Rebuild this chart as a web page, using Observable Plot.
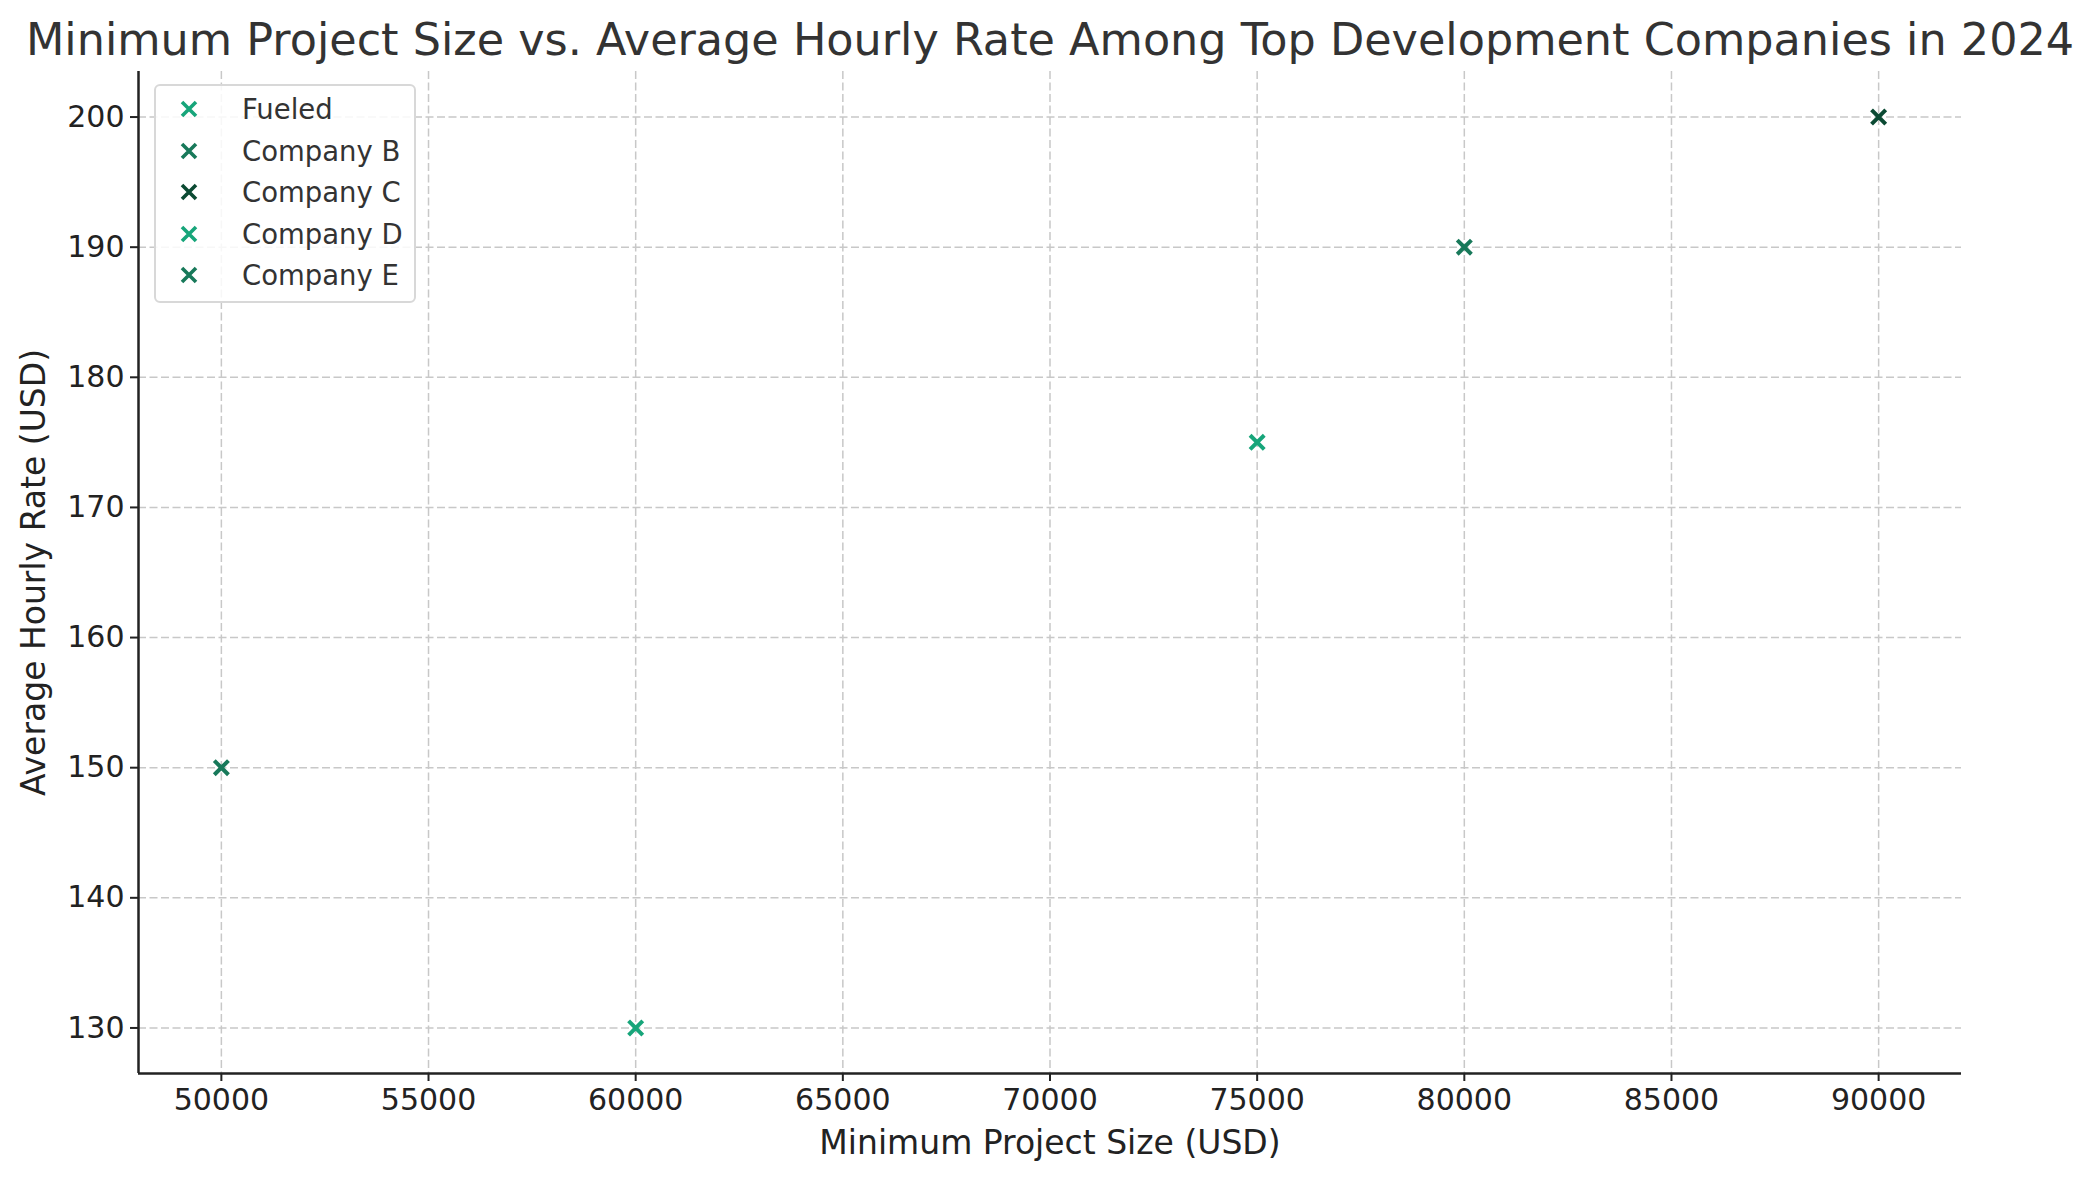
<!DOCTYPE html>
<html><head><meta charset="utf-8">
<script src="https://cdn.jsdelivr.net/npm/d3@7"></script>
<script src="https://cdn.jsdelivr.net/npm/@observablehq/plot@0.6"></script>
<style>
body{margin:0;background:#fff;font-family:"DejaVu Sans",sans-serif;}
#wrap{position:relative;width:2092px;height:1180px;}
#legend{position:absolute;left:154px;top:84px;width:262px;height:219px;border:2px solid #d8d8d8;border-radius:6px;box-sizing:border-box;background:rgba(255,255,255,0.85);}
.row{position:absolute;left:0;height:40px;display:flex;align-items:center;font-size:27.5px;color:#333;white-space:nowrap;}
.row svg{margin-left:23px;margin-right:43px;}
</style>
</head><body>
<div id="wrap"><div id="legend"></div></div>
<script>
const companies = ["Fueled", "Company B", "Company C", "Company D", "Company E"];
const minProjectSize = [75000, 50000, 90000, 60000, 80000];
const hourlyRate = [175, 150, 200, 130, 190];
const colors = ["#17a57a", "#18795a", "#0b4a33", "#17a57a", "#18795a"];
const xTicks = [50000, 55000, 60000, 65000, 70000, 75000, 80000, 85000, 90000];
const yTicks = [130, 140, 150, 160, 170, 180, 190, 200];

const data = companies.map((c, i) => ({company: c, x: minProjectSize[i], y: hourlyRate[i], color: colors[i]}));

const xDomain = [48000, 92000];
const yDomain = [126.5, 203.5];
const axisColor = "#222";
const grid = {stroke: "#c8c8c8", strokeOpacity: 1, strokeDasharray: "8,3.5", strokeWidth: 1.5};

const chart = Plot.plot({
  width: 2092, height: 1180,
  marginLeft: 138, marginRight: 131, marginTop: 71, marginBottom: 107,
  x: {domain: xDomain},
  y: {domain: yDomain},
  style: {fontFamily: "DejaVu Sans", background: "transparent", overflow: "visible"},
  marks: [
    Plot.gridX({ticks: xTicks, ...grid}),
    Plot.gridY({ticks: yTicks, ...grid}),
    Plot.axisX({ticks: xTicks, tickSize: 8, tickPadding: 7, fontSize: 30, fill: axisColor, stroke: axisColor, strokeWidth: 2, tickFormat: d => String(d), label: null}),
    Plot.axisY({ticks: yTicks, tickSize: 8, tickPadding: 6, fontSize: 30, fill: axisColor, stroke: axisColor, strokeWidth: 2, label: null}),
    Plot.ruleY([yDomain[0]], {stroke: axisColor, strokeWidth: 2.5}),
    Plot.ruleX([xDomain[0]], {stroke: axisColor, strokeWidth: 2.5}),
    Plot.dot(data, {x: "x", y: "y", symbol: "times", r: 6.5, stroke: "color", strokeWidth: 4}),
    Plot.text(["Minimum Project Size vs. Average Hourly Rate Among Top Development Companies in 2024"], {frameAnchor: "top", dy: -31, fontSize: 44.5, fill: "#333", lineAnchor: "middle"}),
    Plot.text(["Minimum Project Size (USD)"], {frameAnchor: "bottom", dy: 70, fontSize: 33, fill: axisColor, lineAnchor: "middle"}),
    Plot.text(["Average Hourly Rate (USD)"], {frameAnchor: "left", dx: -104, rotate: -90, fontSize: 33, fill: axisColor, lineAnchor: "middle", textAnchor: "middle"})
  ]
});
const wrap = document.getElementById("wrap");
wrap.insertBefore(chart, wrap.firstChild);

const legend = document.getElementById("legend");
companies.forEach((c, i) => {
  const row = document.createElement("div");
  row.className = "row";
  row.style.top = (3 + i * 41.5) + "px";
  row.innerHTML = `<svg width="20" height="20" viewBox="-10 -10 20 20"><path d="M-7,-7L7,7M7,-7L-7,7" stroke="${colors[i]}" stroke-width="3.6"/></svg><span>${c}</span>`;
  legend.appendChild(row);
});
</script>
</body></html>
